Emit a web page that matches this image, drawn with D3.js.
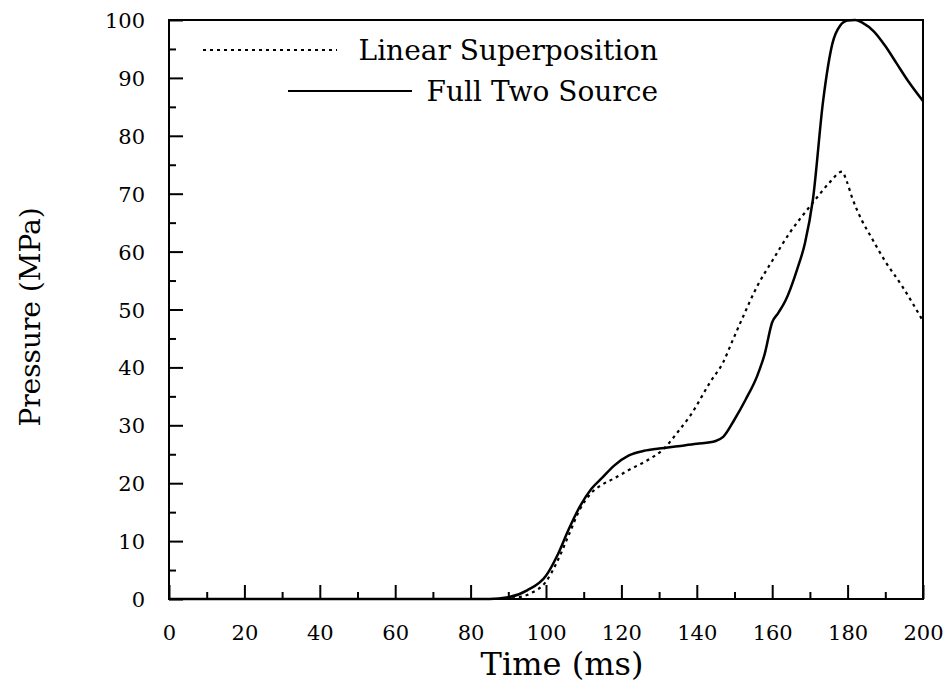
<!DOCTYPE html>
<html>
<head>
<meta charset="utf-8">
<script src="https://cdn.jsdelivr.net/npm/d3@7/dist/d3.min.js"></script>
<style>
  html, body { margin: 0; padding: 0; background: #fff; }
  svg { display: block; }
  text { font-family: "DejaVu Serif", "Liberation Serif", serif; fill: #000; }
</style>
</head>
<body>
<svg id="chart" width="950" height="691"></svg>
<script>
// ---- data ----
const seriesNames = ["Linear Superposition", "Full Two Source"];

const linearTime = [0, 88, 92, 96, 100, 103, 106, 109, 112, 115, 118, 122, 127, 131, 135.5, 138.2, 143.5, 147, 149.6, 152.3, 156, 160.2, 164.7, 169.5, 172.7, 175.3, 178.5, 179.8, 181.1, 183.7, 186, 190, 194.5, 200];
const linearPressure = [0, 0, 0.2, 1, 3, 6.5, 11, 15.5, 18.3, 19.8, 20.8, 22.3, 24, 25.8, 29.3, 31.6, 37.4, 40.9, 44.8, 48.8, 54, 58.6, 63.3, 67.4, 70, 72, 73.8, 72.1, 69.5, 65.5, 62.8, 58.3, 54, 48];

const fullTime = [0, 85, 90, 95, 100, 103, 106, 109, 112, 115, 118, 122, 126, 130, 135, 140, 145, 147, 150, 153, 156, 158, 160, 161.5, 163.5, 166.6, 168.7, 170.8, 173.5, 176, 178, 180, 182, 184, 187, 190, 193, 196, 200];
const fullPressure = [0, 0, 0.3, 1.5, 4, 7.5, 12, 16, 19, 21, 23, 24.8, 25.6, 26, 26.4, 26.8, 27.3, 28, 31, 34.5, 38.5, 42.3, 47.8, 49.3, 51.5, 56.9, 61.5, 69, 86, 96, 99, 99.9, 100, 99.5, 98, 95.5, 92.5, 89.5, 86];

const xTicks = [0, 20, 40, 60, 80, 100, 120, 140, 160, 180, 200];
const xMinorTicks = [10, 30, 50, 70, 90, 110, 130, 150, 170, 190];
const yTicks = [0, 10, 20, 30, 40, 50, 60, 70, 80, 90, 100];
const yMinorTicks = [5, 15, 25, 35, 45, 55, 65, 75, 85, 95];

const xTitle = "Time (ms)";
const yTitle = "Pressure (MPa)";

// ---- layout ----
const svg = d3.select("#chart");
const L = 169, R = 923, T = 20, B = 599;

const x = d3.scaleLinear().domain([0, 200]).range([L, R]);
const y = d3.scaleLinear().domain([0, 100]).range([B, T]);

// minor ticks
const gx = svg.append("g").attr("transform", `translate(0,${B})`);
gx.call(d3.axisBottom(x).tickValues(xMinorTicks).tickSize(-7).tickFormat(""));
const gx2 = svg.append("g").attr("transform", `translate(0,${B})`);
gx2.call(d3.axisBottom(x).tickValues(xTicks).tickSize(-14).tickFormat(d3.format("d")));
const gy = svg.append("g").attr("transform", `translate(${L},0)`);
gy.call(d3.axisLeft(y).tickValues(yMinorTicks).tickSize(-7).tickFormat(""));
const gy2 = svg.append("g").attr("transform", `translate(${L},0)`);
gy2.call(d3.axisLeft(y).tickValues(yTicks).tickSize(-14).tickFormat(d3.format("d")).tickPadding(24));

svg.selectAll(".domain").remove();
svg.selectAll(".tick line").attr("stroke", "#000").attr("stroke-width", 2);
svg.selectAll(".tick text").attr("font-size", 21).attr("font-family", "DejaVu Serif").attr("fill", "#000");
gx2.selectAll(".tick text").attr("dy", "0").attr("y", 41);
gy2.selectAll(".tick text").attr("dy", "0.36em");

// frame
svg.append("rect").attr("x", L).attr("y", T).attr("width", R - L).attr("height", B - T)
  .attr("fill", "none").attr("stroke", "#000").attr("stroke-width", 2);

// lines
const line = d3.line().x(d => x(d[0])).y(d => y(d[1])).curve(d3.curveMonotoneX);
const linearData = linearTime.map((t, i) => [t, linearPressure[i]]);
const fullData = fullTime.map((t, i) => [t, fullPressure[i]]);

svg.append("path").datum(linearData).attr("d", line)
  .attr("fill", "none").attr("stroke", "#000").attr("stroke-width", 2.2).attr("stroke-dasharray", "3,4");
svg.append("path").datum(fullData).attr("d", line)
  .attr("fill", "none").attr("stroke", "#000").attr("stroke-width", 2.5);

// legend
svg.append("line").attr("x1", 203).attr("x2", 337).attr("y1", 50).attr("y2", 50)
  .attr("stroke", "#000").attr("stroke-width", 2).attr("stroke-dasharray", "3,4");
svg.append("text").attr("x", 658).attr("y", 60).attr("text-anchor", "end").attr("font-size", 28).text(seriesNames[0]);
svg.append("line").attr("x1", 288).attr("x2", 412).attr("y1", 91).attr("y2", 91)
  .attr("stroke", "#000").attr("stroke-width", 2.2);
svg.append("text").attr("x", 658).attr("y", 101).attr("text-anchor", "end").attr("font-size", 28).text(seriesNames[1]);

// axis titles
svg.append("text").attr("x", 562).attr("y", 675).attr("text-anchor", "middle").attr("font-size", 32).text(xTitle);
svg.append("text").attr("transform", "translate(40,317) rotate(-90)").attr("text-anchor", "middle").attr("font-size", 28).text(yTitle);
</script>
</body>
</html>
